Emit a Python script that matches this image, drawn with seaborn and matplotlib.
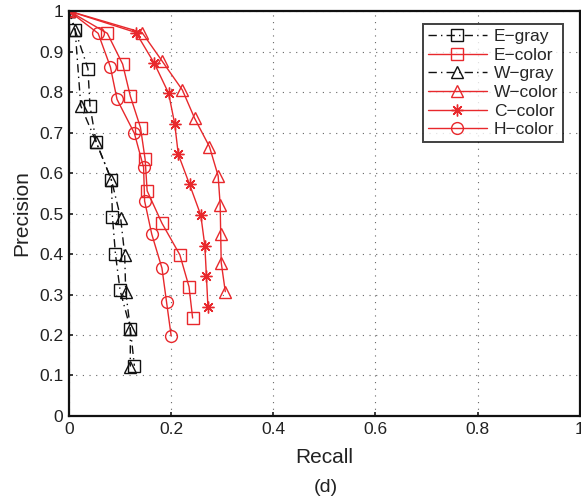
import matplotlib
matplotlib.use("Agg")
import matplotlib.pyplot as plt
import seaborn as sns
import numpy as np

# Precision / recall curves
e_gray_recall = [0.0, 0.012, 0.037, 0.041, 0.053, 0.083, 0.085, 0.091, 0.100, 0.120, 0.128]
e_gray_prec = [1.0, 0.953, 0.858, 0.766, 0.677, 0.583, 0.492, 0.399, 0.310, 0.216, 0.124]

e_color_recall = [0.0, 0.075, 0.105, 0.120, 0.140, 0.149, 0.153, 0.182, 0.217, 0.235, 0.242]
e_color_prec = [1.0, 0.945, 0.869, 0.790, 0.712, 0.634, 0.556, 0.476, 0.398, 0.319, 0.242]

w_gray_recall = [0.0, 0.012, 0.023, 0.053, 0.083, 0.101, 0.109, 0.111, 0.120, 0.120]
w_gray_prec = [1.0, 0.953, 0.766, 0.677, 0.583, 0.490, 0.398, 0.307, 0.216, 0.122]

w_color_recall = [0.0, 0.143, 0.182, 0.222, 0.246, 0.275, 0.292, 0.296, 0.297, 0.298, 0.306]
w_color_prec = [1.0, 0.947, 0.877, 0.805, 0.735, 0.665, 0.593, 0.521, 0.449, 0.379, 0.307]

c_color_recall = [0.0, 0.131, 0.167, 0.195, 0.207, 0.214, 0.236, 0.258, 0.266, 0.269, 0.272]
c_color_prec = [1.0, 0.947, 0.871, 0.797, 0.721, 0.646, 0.572, 0.496, 0.420, 0.346, 0.270]

h_color_recall = [0.0, 0.057, 0.081, 0.094, 0.128, 0.146, 0.148, 0.162, 0.182, 0.191, 0.200]
h_color_prec = [1.0, 0.945, 0.862, 0.782, 0.698, 0.614, 0.531, 0.449, 0.365, 0.281, 0.198]

x_ticks = [0, 0.2, 0.4, 0.6, 0.8, 1]
x_tick_labels = ["0", "0.2", "0.4", "0.6", "0.8", "1"]
y_ticks = [0, 0.1, 0.2, 0.3, 0.4, 0.5, 0.6, 0.7, 0.8, 0.9, 1]
y_tick_labels = ["0", "0.1", "0.2", "0.3", "0.4", "0.5", "0.6", "0.7", "0.8", "0.9", "1"]

sns.set_theme(style="ticks")
plt.rcParams["font.family"] = ["Liberation Sans", "DejaVu Sans"]

RED = "#e8282c"
BLACK = "#111111"

series = [
    ("E\u2212gray", e_gray_recall, e_gray_prec, BLACK, "s", (0, (6, 3, 1, 3))),
    ("E\u2212color", e_color_recall, e_color_prec, RED, "s", "-"),
    ("W\u2212gray", w_gray_recall, w_gray_prec, BLACK, "^", (0, (6, 3, 1, 3))),
    ("W\u2212color", w_color_recall, w_color_prec, RED, "^", "-"),
    ("C\u2212color", c_color_recall, c_color_prec, RED, (8, 2, 0), "-"),
    ("H\u2212color", h_color_recall, h_color_prec, RED, "o", "-"),
]

fig = plt.figure(figsize=(5.81, 5.03), dpi=100)
ax = fig.add_axes([0.1188, 0.173, 0.879, 0.805])

for name, rx, py, col, mk, ls in series:
    sns.lineplot(
        x=rx, y=py, ax=ax, sort=False, estimator=None,
        color=col, linewidth=1.0, linestyle=ls,
        marker=mk, markersize=8.5, markerfacecolor="none",
        markeredgecolor=col, markeredgewidth=1.0, label=name,
    )

ax.set_xlim(0, 1)
ax.set_ylim(0, 1)
ax.set_xticks(x_ticks)
ax.set_xticklabels(x_tick_labels)
ax.set_yticks(y_ticks)
ax.set_yticklabels(y_tick_labels)
ax.tick_params(direction="in", length=3, labelsize=12.5, colors="#222222", pad=4)
ax.grid(True, linestyle=(0, (1, 5)), color="#666666", linewidth=0.8)
for sp in ax.spines.values():
    sp.set_visible(True)
    sp.set_color("#111111")
    sp.set_linewidth(1.6)

ax.set_xlabel("Recall", fontsize=15, color="#222222", labelpad=8)
ax.set_ylabel("Precision", fontsize=15, color="#222222", labelpad=6)

leg = ax.legend(loc="upper right", bbox_to_anchor=(0.985, 0.99), fontsize=12.5,
                frameon=True, fancybox=False, edgecolor="#111111",
                handlelength=3.4, handletextpad=0.4, borderpad=0.3, labelspacing=0.2)
leg.get_frame().set_linewidth(1.4)

fig.text(0.5612, 0.030, "(d)", ha="center", va="center", fontsize=14, color="#222222")

fig.savefig("out.png", dpi=100)
